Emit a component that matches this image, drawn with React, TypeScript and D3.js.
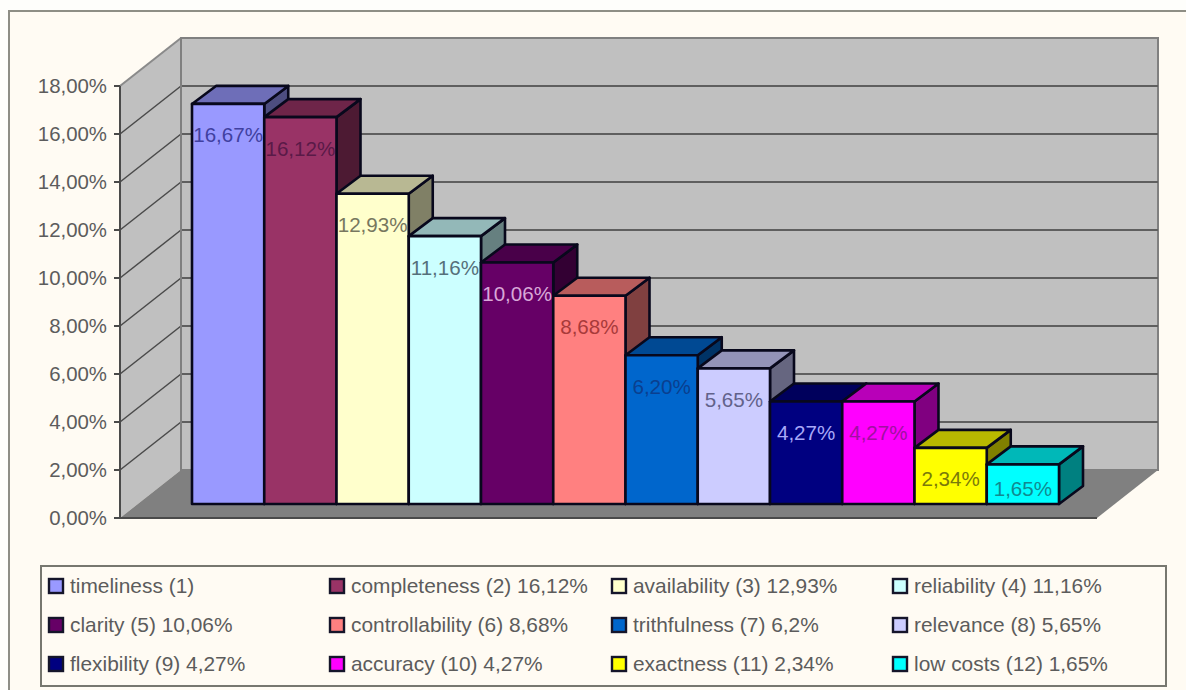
import React from "react";
import * as d3 from "d3";

// Share of each quality attribute, in percent
const categories = ["timeliness", "completeness", "availability", "reliability", "clarity", "controllability", "trithfulness", "relevance", "flexibility", "accuracy", "exactness", "low costs"];
const values = [16.67, 16.12, 12.93, 11.16, 10.06, 8.68, 6.2, 5.65, 4.27, 4.27, 2.34, 1.65];
const valueLabels = ["16,67%", "16,12%", "12,93%", "11,16%", "10,06%", "8,68%", "6,20%", "5,65%", "4,27%", "4,27%", "2,34%", "1,65%"];
const legendLabels = ["timeliness (1)", "completeness (2) 16,12%", "availability (3) 12,93%", "reliability (4) 11,16%", "clarity (5) 10,06%", "controllability (6) 8,68%", "trithfulness (7) 6,2%", "relevance (8) 5,65%", "flexibility (9) 4,27%", "accuracy (10) 4,27%", "exactness (11) 2,34%", "low costs (12) 1,65%"];
const colors = ["#9999FF", "#993366", "#FFFFCC", "#CCFFFF", "#660066", "#FF8080", "#0066CC", "#CCCCFF", "#000080", "#FF00FF", "#FFFF00", "#00FFFF"];
const labelColors = ["#4040a0", "#5a1a48", "#77775f", "#55707a", "#d8a8d8", "#a83a3a", "#0a3f8f", "#62628a", "#a8a8f8", "#a010a0", "#7a7a0a", "#108a90"];
const axisTicks = [0, 2, 4, 6, 8, 10, 12, 14, 16, 18];

const WIDTH = 1186;
const HEIGHT = 690;
const FONT = "'Liberation Sans', Arial, sans-serif";
const TEXT = "#5c5c5c";

// Projection offsets of the oblique 3D box
const wallDx = 61;
const wallDy = -48;
const barDx = 24;
const barDy = -18;

const axisX = 120;
const axisRight = 1097;

const yFront = d3.scaleLinear().domain([0, 18]).range([518, 86]);
const yBar = d3.scaleLinear().domain([0, 18]).range([504, 72]);
const xBar = d3.scaleBand<string>().domain(categories).range([192, 1059]).padding(0);

const poly = (pts: [number, number][]) => pts.map((p) => p.join(",")).join(" ");
const darken = (c: string, k: number) => {
  const rgb = d3.rgb(c);
  return d3.rgb(rgb.r * k, rgb.g * k, rgb.b * k).formatHex();
};
const tickLabel = (v: number) => `${v},00%`;

const legendCols = [49, 330, 612, 893];
const legendRows = [586, 625, 664];

export default function App() {
  const y0 = yFront(0);
  const yTop = yFront(18);
  const barW = xBar.bandwidth();

  return (
    <svg
      width={WIDTH}
      height={HEIGHT}
      viewBox={`0 0 ${WIDTH} ${HEIGHT}`}
      style={{ position: "absolute", left: 0, top: 0, display: "block" }}
      fontFamily={FONT}
    >
      <rect width={WIDTH} height={HEIGHT} fill="#FEFEFB" />
      <rect x={9} y={11} width={WIDTH + 20} height={HEIGHT + 20} fill="#FFFBF3" stroke="#8E8E85" strokeWidth={2} />

      {/* Walls and floor of the 3D box */}
      <polygon
        points={poly([[axisX, y0], [axisX, yTop], [axisX + wallDx, yTop + wallDy], [axisX + wallDx, y0 + wallDy]])}
        fill="#C0C0C0"
      />
      <rect x={axisX + wallDx} y={yTop + wallDy} width={axisRight - axisX} height={y0 - yTop} fill="#C0C0C0" stroke="#808080" strokeWidth={2} />
      <polygon
        points={poly([[axisX, y0], [axisRight, y0], [axisRight + wallDx, y0 + wallDy], [axisX + wallDx, y0 + wallDy]])}
        fill="#808080"
      />

      {/* Gridlines wrap from the side wall onto the back wall */}
      {axisTicks.map((t) => (
        <g key={t}>
          {t > 0 && t < 18 && (
            <line x1={axisX + wallDx} x2={axisRight + wallDx} y1={yFront(t) + wallDy} y2={yFront(t) + wallDy} stroke="#5f5f5f" strokeWidth={2} />
          )}
          {t > 0 && (
            <line x1={axisX} x2={axisX + wallDx} y1={yFront(t)} y2={yFront(t) + wallDy} stroke={t === 18 ? "#8a8a8a" : "#4a4a4a"} strokeWidth={t === 18 ? 2 : 1.5} />
          )}
          <line x1={axisX - 6} x2={axisX} y1={yFront(t)} y2={yFront(t)} stroke="#4a4a4a" strokeWidth={2} />
          <text x={107} y={yFront(t) + 7} textAnchor="end" fontSize={20.4} fill={TEXT}>
            {tickLabel(t)}
          </text>
        </g>
      ))}
      <line x1={axisX + wallDx} x2={axisX + wallDx} y1={yTop + wallDy} y2={y0 + wallDy} stroke="#808080" strokeWidth={2} />
      <line x1={axisX} x2={axisX} y1={yTop} y2={y0} stroke="#4a4a4a" strokeWidth={2} />
      <line x1={axisX} x2={axisRight} y1={y0} y2={y0} stroke="#4a4a4a" strokeWidth={2} />

      {/* Bars, painted left to right so each one overlaps its neighbour's side */}
      {categories.map((c, i) => {
        const x = xBar(c)!;
        const top = yBar(values[i]);
        const base = yBar(0);
        return (
          <g key={c} stroke="#08081c" strokeWidth={2.6} strokeLinejoin="round">
            <polygon
              points={poly([[x + barW, top], [x + barW + barDx, top + barDy], [x + barW + barDx, base + barDy], [x + barW, base]])}
              fill={darken(colors[i], 0.5)}
            />
            <polygon
              points={poly([[x, top], [x + barDx, top + barDy], [x + barW + barDx, top + barDy], [x + barW, top]])}
              fill={darken(colors[i], 0.72)}
            />
            <rect x={x} y={top} width={barW} height={base - top} fill={colors[i]} />
          </g>
        );
      })}

      {/* Value labels sit just inside the top of each bar */}
      {categories.map((c, i) => {
        const top = yBar(values[i]);
        const h = yBar(0) - top;
        return (
          <text key={c} x={xBar(c)! + barW / 2} y={top + Math.min(31, h * 0.6) + 7.5} textAnchor="middle" fontSize={20.6} fill={labelColors[i]}>
            {valueLabels[i]}
          </text>
        );
      })}

      {/* Legend */}
      <rect x={41} y={566} width={1125} height={120} fill="#FFFBF3" stroke="#77776f" strokeWidth={2} />
      {legendLabels.map((label, i) => {
        const x = legendCols[i % 4];
        const y = legendRows[Math.floor(i / 4)];
        return (
          <g key={label}>
            <rect x={x} y={y - 7} width={14} height={14} fill={colors[i]} stroke="#15152a" strokeWidth={2.4} />
            <text x={x + 21} y={y + 7} fontSize={20.9} fill={TEXT}>
              {label}
            </text>
          </g>
        );
      })}
    </svg>
  );
}
